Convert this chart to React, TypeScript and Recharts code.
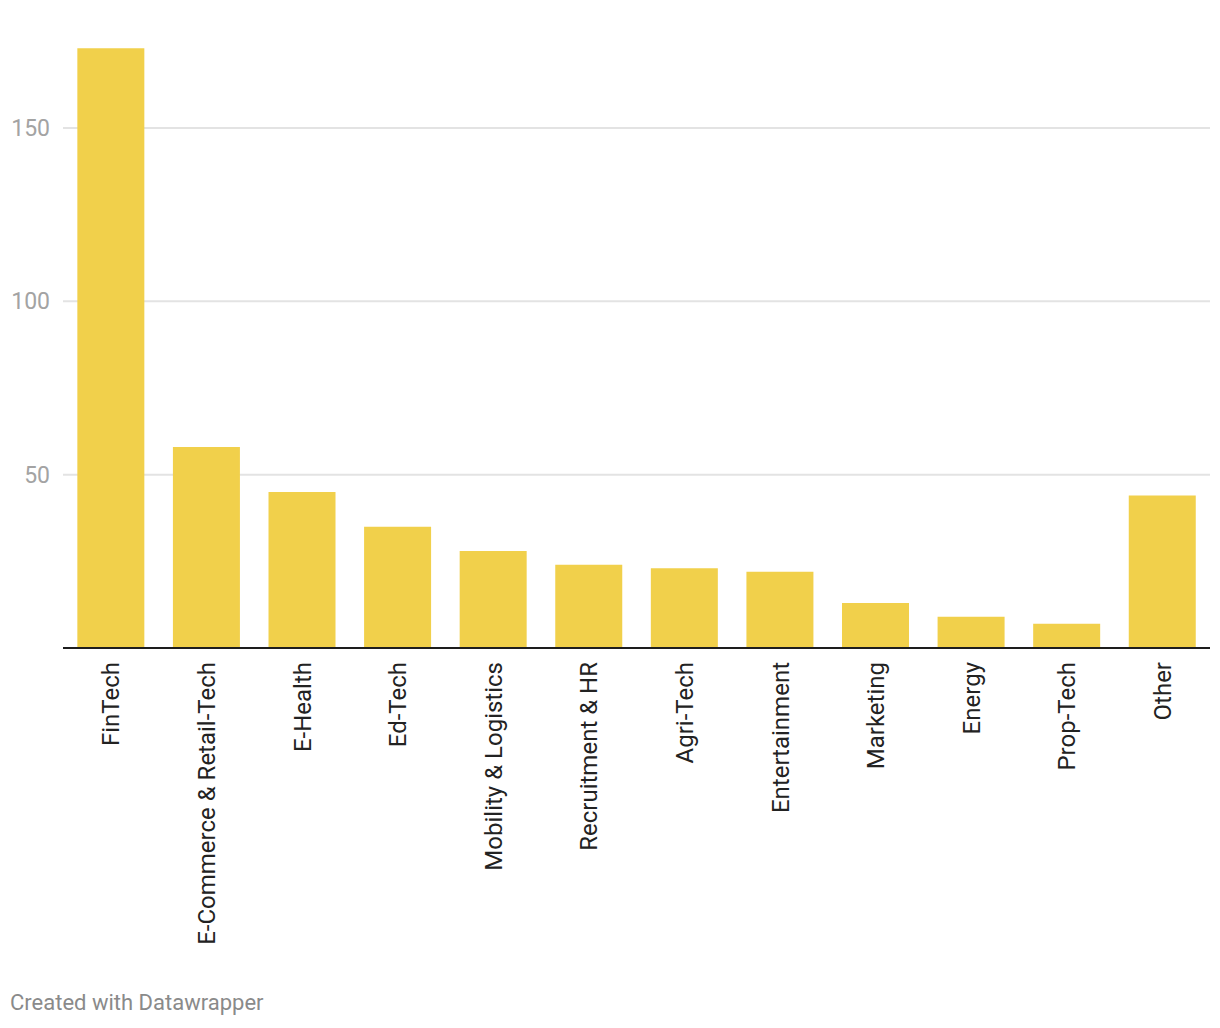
import React from 'react';
import { BarChart, Bar, XAxis, YAxis, CartesianGrid } from 'recharts';

const sectors = [
  'FinTech',
  'E-Commerce & Retail-Tech',
  'E-Health',
  'Ed-Tech',
  'Mobility & Logistics',
  'Recruitment & HR',
  'Agri-Tech',
  'Entertainment',
  'Marketing',
  'Energy',
  'Prop-Tech',
  'Other',
];
const counts = [173, 58, 45, 35, 28, 24, 23, 22, 13, 9, 7, 44];
const yTicks = [50, 100, 150];
const yDomain = [0, 180];

const data = sectors.map((name, i) => ({ name, value: counts[i] }));

const FONT = 'Roboto, "Noto Sans", sans-serif';

function SectorTick({ x, y, payload }: any) {
  return (
    <g transform={`translate(${x},${y})`}>
      <text
        x={-14}
        y={0}
        dy="0.36em"
        textAnchor="end"
        transform="rotate(-90)"
        fill="#222"
        fontSize={24}
        fontFamily={FONT}
      >
        {payload.value}
      </text>
    </g>
  );
}

// grid only at the labelled ticks
function gridRows({ yAxis, offset }: any) {
  const scale = yAxis && yAxis.scale;
  if (typeof scale === 'function') return yTicks.map((t) => scale(t));
  const [d0, d1] = yDomain;
  return yTicks.map((t) => offset.top + offset.height * (1 - (t - d0) / (d1 - d0)));
}

export default function App() {
  return (
    <div style={{ position: 'absolute', left: 0, top: 0, width: 1220, height: 1028, background: '#fff' }}>
      <BarChart
        width={1220}
        height={980}
        data={data}
        margin={{ top: 24, right: 10, bottom: 12, left: 0 }}
        barCategoryGap="15%"
      >
        <CartesianGrid
          vertical={false}
          stroke="#e3e3e3"
          strokeWidth={2}
          horizontalCoordinatesGenerator={gridRows}
        />
        <YAxis
          domain={yDomain}
          ticks={yTicks}
          width={63}
          axisLine={false}
          tickLine={false}
          tickSize={0}
          tickMargin={13}
          tick={{ fill: '#a3a3a3', fontSize: 23, fontFamily: FONT }}
        />
        <XAxis
          dataKey="name"
          height={320}
          interval={0}
          tickLine={false}
          tickSize={0}
          tickMargin={0}
          axisLine={{ stroke: '#1d1d1d', strokeWidth: 2 }}
          tick={<SectorTick />}
        />
        <Bar dataKey="value" fill="#f1d04b" isAnimationActive={false} />
      </BarChart>
      <div
        style={{
          position: 'absolute',
          left: 10,
          top: 990,
          fontFamily: FONT,
          fontSize: 22,
          color: '#8a8a8a',
        }}
      >
        Created with Datawrapper
      </div>
    </div>
  );
}
